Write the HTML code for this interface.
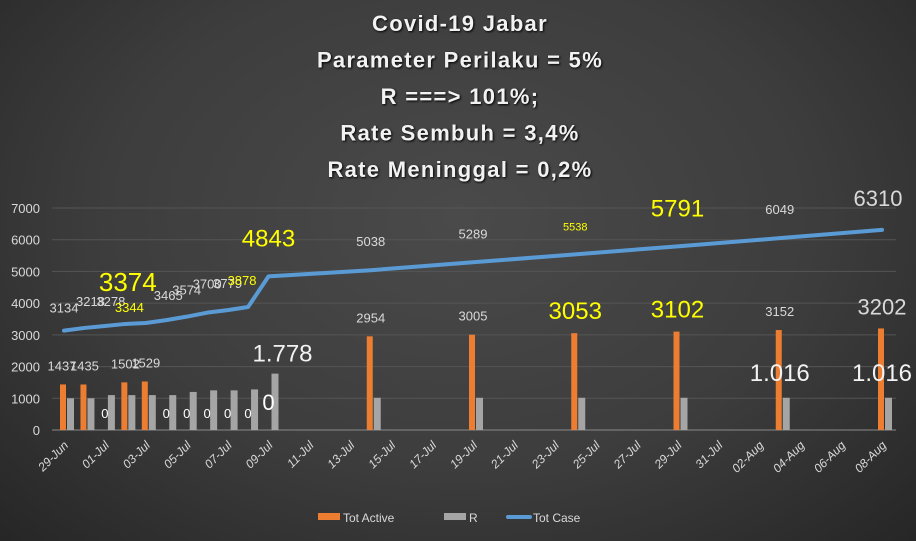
<!DOCTYPE html>
<html><head><meta charset="utf-8"><style>
html,body{margin:0;padding:0;width:916px;height:541px;overflow:hidden}
body{background:radial-gradient(ellipse at 50% 40%,#4a4a4a 0%,#3d3d3d 55%,#262626 100%);font-family:"Liberation Sans",sans-serif}
</style></head><body>
<svg id="chart" width="916" height="541" xmlns="http://www.w3.org/2000/svg"></svg>
<script>
const dates=['29-Jun','30-Jun','01-Jul','02-Jul','03-Jul','04-Jul','05-Jul','06-Jul','07-Jul','08-Jul','09-Jul','14-Jul','19-Jul','24-Jul','29-Jul','03-Aug','08-Aug'];
const dayIndex=[0,1,2,3,4,5,6,7,8,9,10,15,20,25,30,35,40];
const totActive=[1437,1435,0,1502,1529,0,0,0,0,0,0,2954,3005,3053,3102,3152,3202];
const rValues=[1000,1000,1100,1100,1100,1100,1200,1250,1250,1280,1778,1016,1016,1016,1016,1016,1016];
const totCase=[3134,3218,3278,3344,3374,3465,3574,3700,3779,3878,4843,5038,5289,5538,5791,6049,6310];
const yTicks=[0,1000,2000,3000,4000,5000,6000,7000];
const xTickLabels=['29-Jun','01-Jul','03-Jul','05-Jul','07-Jul','09-Jul','11-Jul','13-Jul','15-Jul','17-Jul','19-Jul','21-Jul','23-Jul','25-Jul','27-Jul','29-Jul','31-Jul','02-Aug','04-Aug','06-Aug','08-Aug'];
const titleLines=['Covid-19 Jabar','Parameter Perilaku = 5%','R ===> 101%;','Rate Sembuh = 3,4%','Rate Meninggal = 0,2%'];
const NS='http://www.w3.org/2000/svg';
const svg=document.getElementById('chart');
const x0=64,dx=20.45,y0=430,ky=222/7000;
const X=d=>x0+d*dx, Y=v=>y0-v*ky;
function mk(t,a,txt){const e=document.createElementNS(NS,t);for(const k in a)e.setAttribute(k,a[k]);if(txt!==undefined)e.textContent=txt;svg.appendChild(e);return e;}
titleLines.forEach((s,i)=>{const e=mk('text',{x:460,y:31+i*36.5,'text-anchor':'middle','font-size':22,'font-weight':'bold',fill:'#f2f2f2','letter-spacing':'1.3',style:'text-shadow:1px 1px 2px #000'},s);
});
yTicks.forEach(v=>{const g=mk('line',{x1:52,x2:896,y1:Y(v),y2:Y(v),stroke:v===0?'#8a8a8a':'#555','stroke-width':1});

const t=mk('text',{x:40,y:Y(v)+5,'text-anchor':'end','font-size':13,fill:'#d9d9d9'},String(v));
});
xTickLabels.forEach((s,i)=>{const xx=X(i*2)+5,yy=446;const t=mk('text',{x:xx,y:yy,'text-anchor':'end','font-size':12,'font-style':'italic',fill:'#d9d9d9',transform:`rotate(-45 ${xx} ${yy})`},s);
});
dates.forEach((d,i)=>{const cx=X(dayIndex[i]);
if(totActive[i]>0){const b=mk('rect',{x:cx-4,y:Y(totActive[i]),width:6,height:totActive[i]*ky,fill:'#ed7d31'});
}
const r=mk('rect',{x:cx+3,y:Y(rValues[i]),width:7,height:rValues[i]*ky,fill:'#a5a5a5'});
});
const pts=dates.map((d,i)=>X(dayIndex[i])+','+Y(totCase[i])).join(' ');
const pl=mk('polyline',{points:pts,fill:'none',stroke:'#5b9bd5','stroke-width':4,'stroke-linejoin':'round','stroke-linecap':'round'});

const caseStyle=[[13,'#d9d9d9',0,-18],[13,'#d9d9d9',6,-22],[13,'#d9d9d9',6,-20],[13,'#ffff00',4,-12],[26,'#ffff00',-18,-32],[13,'#d9d9d9',2,-20],[13,'#d9d9d9',0,-22],[13,'#d9d9d9',0,-24],[13,'#d9d9d9',0,-22],[13,'#ffff00',-6,-22],[24,'#ffff00',0,-30],[13,'#d9d9d9',0,-24],[13,'#d9d9d9',0,-24],[11,'#ffff00',0,-24],[24,'#ffff00',0,-30],[13,'#d9d9d9',0,-24],[22,'#d9d9d9',-4,-24]];
totCase.forEach((v,i)=>{const s=caseStyle[i];const t=mk('text',{x:X(dayIndex[i])+s[2],y:Y(v)+s[3],'text-anchor':'middle','font-size':s[0],fill:s[1]},String(v));
});
const actStyle=[[13,'#d9d9d9',-2],[13,'#d9d9d9',0],[13,'#fff',0],[13,'#d9d9d9',0],[13,'#d9d9d9',0],[13,'#fff',0],[13,'#fff',0],[13,'#fff',0],[13,'#fff',0],[13,'#fff',0],[22,'#fff',0],[13,'#d9d9d9',0],[13,'#d9d9d9',0],[24,'#ffff00',0],[24,'#ffff00',0],[13,'#d9d9d9',0],[22,'#d9d9d9',0]];
totActive.forEach((v,i)=>{const s=actStyle[i];let yy=v>0?Y(v)-14:418;if(i===10)yy=410;
const t=mk('text',{x:X(dayIndex[i])+s[2],y:yy,'text-anchor':'middle','font-size':s[0],fill:s[1]},String(v));
});
[[10,'1.778',Y(rValues[10])-12],[15,'1.016',381],[16,'1.016',381]].forEach(a=>{const t=mk('text',{x:X(dayIndex[a[0]])+(a[0]===10?14:0),y:a[2],'text-anchor':'middle','font-size':24,fill:'#f2f2f2'},a[1]);
});
const lg=[[318,'#ed7d31','Tot Active','rect'],[444,'#a5a5a5','R','rect'],[508,'#5b9bd5','Tot Case','line']];
lg.forEach(l=>{if(l[3]==='rect'){const r=mk('rect',{x:l[0],y:513,width:22,height:7,fill:l[1]});}
else{const r=mk('line',{x1:l[0],x2:l[0]+22,y1:517,y2:517,stroke:l[1],'stroke-width':4,'stroke-linecap':'round'});}
const t=mk('text',{x:l[0]+25,y:522,'font-size':12,fill:'#d9d9d9'},l[2]);});
</script>
</body></html>
